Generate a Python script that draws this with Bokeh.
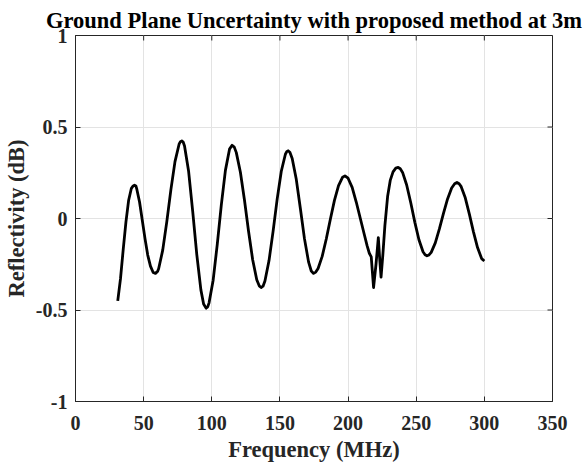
import math
from bokeh.plotting import figure
from bokeh.models import Range1d, FixedTicker, ColumnDataSource
from bokeh.embed import file_html
from bokeh.resources import INLINE

# ---- data ----
freq_mhz = [31, 33, 35, 37, 39, 41, 42.3, 43.3, 44.3, 45, 47, 49, 51, 53, 55, 57, 58.7,
            60.2, 61, 64, 67, 70, 73, 76, 77, 78, 79,
            80, 83, 86, 89, 92, 94, 95.8, 97,
            98, 101, 104, 107, 110, 113, 114.9, 116.5,
            118, 121, 124, 127, 130, 133, 134.8, 136.2, 137.6,
            139, 142, 145, 148, 151, 154, 155, 156, 157.3,
            159, 162, 165, 168, 171, 173, 174.7, 176.3,
            178, 181, 184, 187, 190, 193, 196, 197.7,
            200, 203, 206, 209, 212, 214, 215.6, 217, 218.7, 220.5, 222.2, 223.2, 224.2, 225.5,
            227, 229, 231, 233, 235, 236.8, 238.3,
            240, 243, 246, 249, 252, 255, 256.5, 257.9, 259.4,
            261, 264, 267, 270, 273, 276, 278.2, 279.9, 281.5,
            283, 286, 289, 292, 295, 298, 300]
reflectivity_db = [-0.45, -0.33, -0.17, -0.02, 0.10, 0.165, 0.178, 0.182, 0.178, 0.16, 0.09, -0.01, -0.11, -0.20, -0.26, -0.295, -0.30,
                   -0.29, -0.275, -0.173, -0.017, 0.158, 0.311, 0.406, 0.42, 0.424, 0.418,
                   0.396, 0.258, 0.039, -0.198, -0.390, -0.467, -0.49, -0.483,
                   -0.461, -0.337, -0.143, 0.074, 0.263, 0.379, 0.40, 0.39,
                   0.360, 0.253, 0.100, -0.071, -0.225, -0.335, -0.368, -0.377, -0.370,
                   -0.341, -0.230, -0.069, 0.107, 0.258, 0.351, 0.365, 0.37, 0.362,
                   0.328, 0.214, 0.055, -0.110, -0.237, -0.287, -0.30, -0.293,
                   -0.273, -0.207, -0.112, -0.004, 0.099, 0.180, 0.226, 0.233,
                   0.22, 0.17, 0.09, 0.00, -0.09, -0.15, -0.19, -0.21, -0.377, -0.25, -0.104, -0.22, -0.32, -0.20,
                   -0.04, 0.12, 0.21, 0.255, 0.275, 0.279, 0.272,
                   0.252, 0.183, 0.086, -0.021, -0.116, -0.182, -0.198, -0.204, -0.199,
                   -0.185, -0.133, -0.057, 0.028, 0.107, 0.167, 0.19, 0.197, 0.19,
                   0.174, 0.113, 0.024, -0.073, -0.159, -0.219, -0.232]

x_ticks = [0, 50, 100, 150, 200, 250, 300, 350]
x_tick_labels = ["0", "50", "100", "150", "200", "250", "300", "350"]
y_ticks = [-1, -0.5, 0, 0.5, 1]
y_tick_labels = ["-1", "-0.5", "0", "0.5", "1"]

title_text = "Ground Plane Uncertainty with proposed method at 3m"
x_label = "Frequency (MHz)"
y_label = "Reflectivity (dB)"

FONT = "Liberation Serif"
AXC = "#262626"
X_MIN, X_MAX = 0, 350
Y_MIN, Y_MAX = -1, 1

p = figure(frame_width=477, frame_height=366,
           x_range=Range1d(X_MIN, X_MAX), y_range=Range1d(Y_MIN, Y_MAX),
           output_backend="svg", toolbar_location=None, title=title_text,
           min_border_left=68, min_border_right=35, min_border_top=35, min_border_bottom=55,
           background_fill_color="white", border_fill_color="white")
p.outline_line_color = AXC
p.outline_line_width = 1

p.title.text_font = FONT
p.title.text_font_size = "22.5px"
p.title.text_font_style = "bold"
p.title.align = "center"
p.title.text_color = "black"
p.title.standoff = 5

def style_axis(ax, ticks, labels):
    ax.ticker = FixedTicker(ticks=ticks)
    ax.major_label_overrides = {t: l for t, l in zip(ticks, labels)}
    ax.minor_tick_line_color = None
    ax.major_tick_in = 5
    ax.major_tick_out = 0
    ax.major_tick_line_color = AXC
    ax.axis_line_color = AXC
    ax.major_label_text_font = FONT
    ax.major_label_text_font_style = "bold"
    ax.major_label_text_color = AXC
    ax.major_label_text_font_size = "20px"
    ax.axis_label_text_font = FONT
    ax.axis_label_text_font_style = "bold"
    ax.axis_label_text_font_size = "22.5px"
    ax.axis_label_text_color = AXC

xa = p.xaxis[0]
ya = p.yaxis[0]
style_axis(xa, x_ticks, x_tick_labels)
style_axis(ya, y_ticks, y_tick_labels)
xa.axis_label = x_label
ya.axis_label = y_label
xa.major_label_standoff = 14
ya.major_label_standoff = 8
xa.axis_label_standoff = 4
ya.axis_label_standoff = 4

# inward ticks on the top and right edges of the box (MATLAB "box on")
p.ray(x=x_ticks, y=[Y_MAX] * len(x_ticks), length=5, length_units="screen",
      angle=-math.pi / 2, line_color=AXC, line_width=1)
p.ray(x=[X_MAX] * len(y_ticks), y=y_ticks, length=5, length_units="screen",
      angle=math.pi, line_color=AXC, line_width=1)

p.xgrid.ticker = FixedTicker(ticks=x_ticks)
p.ygrid.ticker = FixedTicker(ticks=y_ticks)
p.xgrid.grid_line_color = "#e3e3e3"
p.ygrid.grid_line_color = "#e3e3e3"

src = ColumnDataSource(data=dict(f=freq_mhz, r=reflectivity_db))
p.line("f", "r", source=src, line_color="black", line_width=2.8, line_join="round")

open("out.html", "w").write(file_html(p, INLINE))
